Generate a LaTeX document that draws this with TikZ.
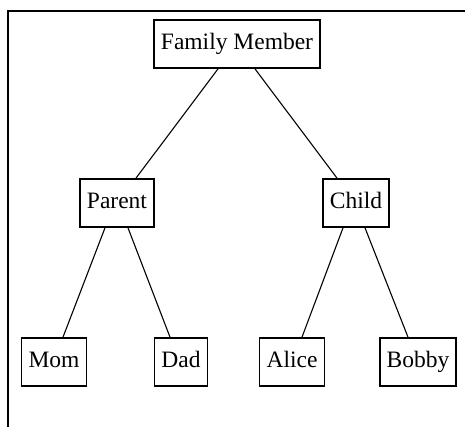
\documentclass[tikz,border=0pt]{standalone}
\usepackage{fontspec}
\setmainfont{Liberation Serif}
\begin{document}
\begin{tikzpicture}[x=1pt,y=-1pt,
  box/.style={draw=black,line width=1.7pt,minimum height=48pt,inner xsep=7pt,inner ysep=0pt,
    text height=16pt,text depth=5pt,
    font=\fontsize{23.5}{28}\selectfont},
  edge/.style={line width=1.1pt}]
\useasboundingbox (0,0) rectangle (465,426);
\draw[line width=1.6pt] (8,440) -- (8,11) -- (480,11);
\node[box] (fm) at (237,44) {Family Member};
\node[box] (par) at (117,203) {Parent};
\node[box] (chi) at (356,203) {Child};
\node[box] (mom) at (54,362) {Mom};
\node[box] (dad) at (181,362) {Dad};
\node[box] (ali) at (292,362) {Alice};
\node[box] (bob) at (418,362) {Bobby};
\draw[edge] ([xshift=-19pt]fm.south) -- ([xshift=19pt]par.north);
\draw[edge] ([xshift=18pt]fm.south) -- ([xshift=-19pt]chi.north);
\draw[edge] ([xshift=-12pt]par.south) -- ([xshift=9pt]mom.north);
\draw[edge] ([xshift=11pt]par.south) -- ([xshift=-11pt]dad.north);
\draw[edge] ([xshift=-13pt]chi.south) -- ([xshift=10pt]ali.north);
\draw[edge] ([xshift=9pt]chi.south) -- ([xshift=-10pt]bob.north);
\end{tikzpicture}
\end{document}
